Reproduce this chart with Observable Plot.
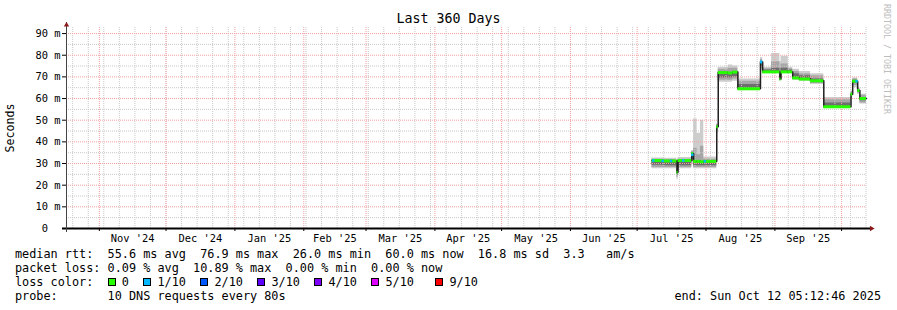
<!DOCTYPE html>
<html><head><meta charset="utf-8">
<script src="https://cdn.jsdelivr.net/npm/d3@7"></script>
<script src="https://cdn.jsdelivr.net/npm/@observablehq/plot@0.6"></script>
<style>
html,body{margin:0;padding:0;background:#fff;}
#wrap{position:relative;width:897px;height:310px;overflow:hidden;font-family:"DejaVu Sans Mono",monospace;color:#000;background:#fff;}
#title{height:27px;box-sizing:border-box;padding-top:11px;line-height:16px;font-size:13.3px;text-align:center;}
#chart svg{display:block;overflow:visible;}
#legend{font-size:11.83px;line-height:13.8px;white-space:pre;padding-left:15px;padding-right:16px;margin-top:1.3px;}
.row{height:13.8px;}
.row4{display:flex;justify-content:space-between;}
.sw{display:inline-block;width:8px;height:8px;box-sizing:border-box;border:1px solid #000;margin-right:calc(1ch - 8px);}
#brand{position:absolute;left:882px;top:4px;writing-mode:vertical-rl;font-size:8.3px;line-height:10px;color:#bdbdbd;white-space:pre;}
</style></head>
<body>
<div id="wrap">
  <div id="title">Last 360 Days</div>
  <div id="chart"></div>
  <div id="legend"></div>
  <div id="brand">RRDTOOL / TOBI OETIKER</div>
</div>
<script>
// ---------- data ----------
const endStamp = "2025-10-12T05:12:46Z";
const spanDays = 360;

const monthStarts = ["2024-11-01","2024-12-01","2025-01-01","2025-02-01","2025-03-01","2025-04-01","2025-05-01","2025-06-01","2025-07-01","2025-08-01","2025-09-01","2025-10-01"];
const monthLabels = ["Nov '24","Dec '24","Jan '25","Feb '25","Mar '25","Apr '25","May '25","Jun '25","Jul '25","Aug '25","Sep '25"];

const yMajor = [0,10,20,30,40,50,60,70,80,90];
const yMinor = [5,15,25,35,45,55,65,75,85];

const sampleTimes = [
  "2025-07-07T16:00Z","2025-07-13T00:00Z","2025-07-18T22:00Z","2025-07-19T10:00Z","2025-07-25T14:00Z",
  "2025-07-26T10:00Z","2025-07-28T00:00Z","2025-07-29T12:00Z","2025-07-31T00:00Z","2025-08-05T20:00Z",
  "2025-08-06T12:00Z","2025-08-11T00:00Z","2025-08-13T00:00Z","2025-08-15T08:00Z","2025-08-25T12:00Z",
  "2025-08-26T12:00Z","2025-08-30T12:00Z","2025-09-03T06:00Z","2025-09-03T18:00Z","2025-09-07T00:00Z",
  "2025-09-09T00:00Z","2025-09-12T00:00Z","2025-09-17T00:00Z","2025-09-23T00:00Z","2025-10-05T06:00Z",
  "2025-10-06T00:00Z","2025-10-08T06:00Z","2025-10-09T06:00Z","2025-10-12T05:12:46Z"
];
const medianMs = [31.4,31.2,26.0,31.4,34.6, 31.0,31.0,30.8,31.0,47.0, 72.0,71.8,72.2,64.5,76.9, 72.3,72.3,69.0,72.3,72.3, 69.5,69.0,68.2,56.2,62.0, 68.0,63.7,60.0,60.0];
const smokeMin  = [27.6,27.6,22.5,27.6,30.0, 27.6,27.6,27.6,27.6,44.0, 67.5,67.5,68.0,64.2,73.0, 71.8,71.8,68.0,71.8,71.8, 68.5,68.0,66.5,55.8,60.0, 65.0,62.0,57.5,57.5];
const smokeMax  = [32.6,32.4,28.5,32.8,36.0, 50.5,44.0,50.0,33.0,48.5, 74.5,75.5,75.0,69.0,79.0, 74.5,80.8,77.0,79.5,74.5, 73.5,72.5,71.5,60.5,63.5, 69.5,65.0,62.0,62.0];
const smokeLo   = [28.2,28.2,23.5,28.2,31.0, 28.2,28.2,28.2,28.2,45.0, 68.5,68.5,69.0,64.5,74.0, 72.0,72.0,68.5,72.0,72.0, 69.0,68.5,67.0,56.0,61.0, 66.0,62.5,58.0,58.0];
const smokeHi   = [32.0,31.8,27.5,32.0,35.5, 37.0,34.0,38.0,32.0,48.0, 73.5,74.0,74.0,68.0,78.0, 73.8,77.0,74.0,76.0,73.8, 72.5,71.5,70.5,59.5,63.0, 69.0,64.5,61.5,61.5];
const darkLo    = [29.2,29.0,24.5,29.0,32.0, 29.0,29.0,29.0,29.0,46.0, 69.5,69.5,70.0,64.5,75.0, 72.3,72.3,69.0,72.3,72.3, 69.5,69.0,67.5,56.2,61.5, 67.0,63.0,59.0,59.0];
const darkHi    = [31.4,31.2,26.5,31.4,34.6, 31.0,31.0,30.8,31.0,47.5, 72.0,71.8,72.2,66.5,76.9, 73.2,74.0,71.0,74.0,73.2, 71.5,70.5,69.0,58.0,62.5, 68.5,64.0,60.5,60.5];
const lossLevel = [0,0,0,0,0, 0,0,0,0,0, 0,0,0,0,1, 0,0,0,0,0, 0,0,0,0,0, 0,0,0,0];

const lossEventTimes = ["2025-07-08T06:00Z","2025-07-12T12:00Z","2025-07-16T06:00Z","2025-07-21T18:00Z","2025-07-25T20:00Z","2025-07-31T12:00Z","2025-10-07T18:00Z"];
const lossEventMs    = [31.4,31.2,31.2,31.4,34.0,31.0,68.0];
const lossEventLevel = [1,1,1,1,1,1,1];

const lossColors = ["#26ff00","#00b8ff","#0059ff","#5e00ff","#7e00ff","#dd00ff","#ff0000"];
const lossLabels = ["0","1/10","2/10","3/10","4/10","5/10","9/10"];

const statsLine = "median rtt:  55.6 ms avg  76.9 ms max  26.0 ms min  60.0 ms now  16.8 ms sd  3.3   am/s";
const lossLine  = "packet loss: 0.09 % avg  10.89 % max  0.00 % min  0.00 % now";
const probeLine = "probe:       10 DNS requests every 80s";
const endLine   = "end: Sun Oct 12 05:12:46 2025";

// ---------- build ----------
const endTime = new Date(endStamp);
const startTime = new Date(+endTime - spanDays * 864e5);
const mStarts = monthStarts.map(s => new Date(s + "T00:00:00Z"));
const labelTicks = monthLabels.map((l, i) => new Date((+mStarts[i] + +mStarts[i + 1]) / 2));
const labelOf = new Map(labelTicks.map((d, i) => [+d, monthLabels[i]]));
const weekLines = d3.utcSunday.range(startTime, endTime);

const rows = sampleTimes.map((t, i) => ({
  t: new Date(t), med: medianMs[i],
  sMin: smokeMin[i], sMax: smokeMax[i], sLo: smokeLo[i], sHi: smokeHi[i],
  dLo: darkLo[i], dHi: darkHi[i]
}));
const segments = rows.slice(0, -1).map((r, i) => ({
  x1: r.t, x2: rows[i + 1].t, y: r.med, c: lossColors[lossLevel[i]]
}));
const lossEvents = lossEventTimes.map((t, i) => ({t: new Date(t), y: lossEventMs[i], c: lossColors[lossEventLevel[i]]}));

const grey = "#c8c8c8", red = "#f2a0a0";

const chart = Plot.plot({
  width: 897, height: 220,
  marginTop: 0, marginBottom: 19, marginLeft: 66, marginRight: 31,
  style: {fontFamily: '"DejaVu Sans Mono", monospace', fontSize: "10.4px", overflow: "visible", background: "transparent", color: "#000"},
  x: {type: "utc", domain: [startTime, endTime], axis: null},
  y: {domain: [0, 92.8], axis: null},
  color: {type: "identity"},
  marks: [
    Plot.areaY(rows, {x: "t", y1: "sMin", y2: "sMax", curve: "step-after", fill: "#cdcdcd"}),
    Plot.areaY(rows, {x: "t", y1: "sLo", y2: "sHi", curve: "step-after", fill: "#a6a6a6"}),
    Plot.areaY(rows, {x: "t", y1: "dLo", y2: "dHi", curve: "step-after", fill: "#6e6e6e"}),
    Plot.ruleX(weekLines, {stroke: grey, strokeDasharray: "1,1"}),
    Plot.ruleY(yMinor, {stroke: grey, strokeDasharray: "1,1"}),
    Plot.ruleX(mStarts, {stroke: red, strokeDasharray: "1,1"}),
    Plot.ruleY(yMajor.filter(d => d > 0), {stroke: red, strokeDasharray: "1,1"}),
    Plot.line(rows, {x: "t", y: "med", curve: "step-after", stroke: "#202020", strokeWidth: 1.5}),
    Plot.ruleY(segments, {x1: "x1", x2: "x2", y: "y", stroke: "c", strokeWidth: 3}),
    Plot.dot(lossEvents, {x: "t", y: "y", fill: "c", symbol: "square", r: 1.4}),
    // axes
    Plot.ruleX(mStarts, {y1: 0, y2: 0, insetBottom: -3, stroke: "#000"}),
    Plot.ruleY([0], {stroke: "#000", strokeWidth: 2, insetLeft: -4, insetRight: -4}),
    Plot.ruleX([startTime], {stroke: "#444", insetTop: -5, insetBottom: -4}),
    Plot.dot([0], {frameAnchor: "top-left", symbol: "triangle", r: 2, fill: "#8b1a1a", stroke: "none", dy: -2.5}),
    Plot.dot([0], {frameAnchor: "bottom-right", symbol: "triangle", r: 2, rotate: 90, fill: "#8b1a1a", stroke: "none", dx: 5}),
    Plot.axisY({ticks: yMajor, tickSize: 4, tickPadding: 2, tickFormat: d => d === 0 ? "0\u00a0\u00a0" : d + " m", fontSize: 10.4}),
    Plot.axisX({ticks: labelTicks, tickSize: 0, tickPadding: 6.5, tickFormat: d => labelOf.get(+d), fontSize: 10.4}),
    Plot.text(["Seconds"], {frameAnchor: "left", textAnchor: "middle", rotate: -90, dx: -56, fontSize: 11.6})
  ]
});
document.getElementById("chart").appendChild(chart);

// ---------- legend ----------
const legend = document.getElementById("legend");
function addRow(html, cls) { const d = document.createElement("div"); d.className = "row" + (cls ? " " + cls : ""); d.innerHTML = html; legend.appendChild(d); }
addRow(statsLine);
addRow(lossLine);
const items = lossLabels.map((l, i) => `<span class="sw" style="background:${lossColors[i]}"></span> ${l}`);
addRow("loss color:  " + items.slice(0, 6).join("  ") + "   " + items[6]);
addRow(`<span>${probeLine}</span><span>${endLine}</span>`, "row4");
</script>
</body></html>
